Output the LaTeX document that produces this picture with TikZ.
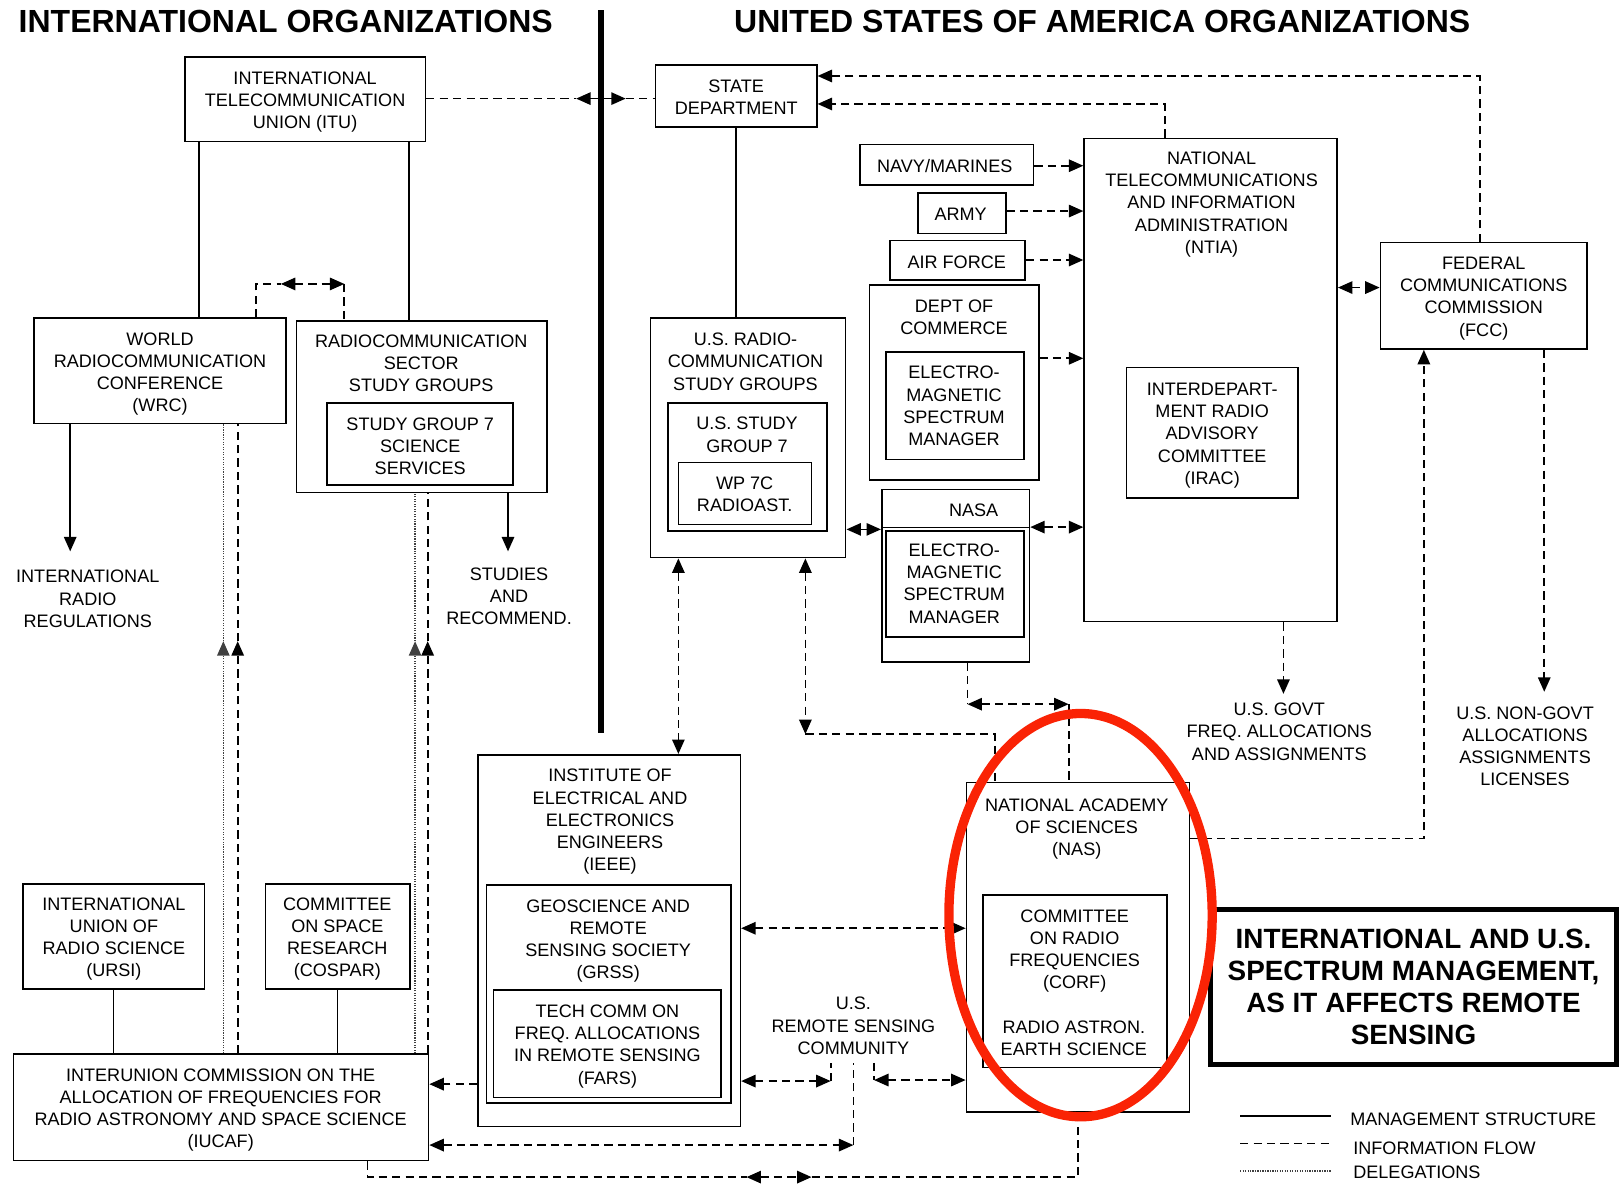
\documentclass[tikz,border=0pt]{standalone}
\usepackage{fontspec}
\setmainfont{Liberation Sans}
\usetikzlibrary{arrows.meta}
\definecolor{markred}{RGB}{250,35,5}
\newcommand\lblfont{\fontsize{17.5}{21.5}\selectfont}
\def\orgbox(#1)(#2,#3)(#4,#5){\node[org, minimum width=#4-#2, minimum height=#5-#3] (#1) at ({(#2+#4)/2},{(#3+#5)/2}) {};}
\tikzset{
  org/.style={draw, line width=1.6pt, inner sep=0pt},
  lbl/.style={align=center, inner sep=0pt, font=\lblfont},
  head/.style={inner sep=0pt, font=\fontsize{31}{36}\selectfont\bfseries},
  capbox/.style={draw, line width=4.5pt, align=center, inner sep=0pt, font=\fontsize{27}{31}\selectfont\bfseries},
  mgmt/.style={line width=1.6pt},
  info/.style={line width=1.7pt, dash pattern=on 8pt off 5pt},
  deleg/.style={line width=1.3pt, dash pattern=on 1.2pt off 1.2pt, black!75},
}
\begin{document}
\begin{tikzpicture}[x=1pt, y=-1pt, >={Triangle[length=14pt,width=12pt]}]
\useasboundingbox (0,0) rectangle (1568,1146);
%%%%% HEADINGS %%%%%
\node[head] (hint) at (276.7,21) {INTERNATIONAL ORGANIZATIONS};
\node[head] (husa) at (1067.5,21) {UNITED STATES OF AMERICA ORGANIZATIONS};
\draw[line width=5pt] (582,10) -- (582,710);

%%%%% INTERNATIONAL %%%%%
\orgbox(itu)(179,55)(412,137)
\node[lbl] (itut) at (295.5,99) {INTERNATIONAL\\TELECOMMUNICATION\\UNION (ITU)};
\orgbox(wrc)(33,308)(277,410)
\node[lbl] (wrct) at (155,362.3) {WORLD\\RADIOCOMMUNICATION\\CONFERENCE\\(WRC)};
\orgbox(rcs)(287,311)(530,477)
\node[lbl] (rcst) at (408,352) {RADIOCOMMUNICATION\\SECTOR\\STUDY GROUPS};
\orgbox(sg7)(317,390)(497,470)
\node[lbl] (sg7t) at (407,432) {STUDY GROUP 7\\SCIENCE\\SERVICES};
\node[lbl] (irr) at (85,580) {INTERNATIONAL\\RADIO\\REGULATIONS};
\node[lbl] (stud) at (493,577.4) {STUDIES\\AND\\RECOMMEND.};
\orgbox(ursi)(22,856)(198,958)
\node[lbl] (ursit) at (110.3,909.3) {INTERNATIONAL\\UNION OF\\RADIO SCIENCE\\(URSI)};
\orgbox(cospar)(257,856)(397,958)
\node[lbl] (cospart) at (326.7,909.3) {COMMITTEE\\ON SPACE\\RESEARCH\\(COSPAR)};
\orgbox(iucaf)(13,1021)(415,1124)
\node[lbl] (iucaft) at (213.7,1075) {INTERUNION COMMISSION ON THE\\ALLOCATION OF FREQUENCIES FOR\\RADIO ASTRONOMY AND SPACE SCIENCE\\(IUCAF)};

%%%%% UNITED STATES %%%%%
\orgbox(state)(635,63)(791,123)
\node[lbl] (statet) at (713,94) {STATE\\DEPARTMENT};
\orgbox(navy)(833,140)(1001,179)
\node[lbl] (navyt) at (915,160.5) {NAVY/MARINES};
\orgbox(army)(889,187)(974,226)
\node[lbl] (armyt) at (930.4,207.6) {ARMY};
\orgbox(airf)(862,233)(993,271)
\node[lbl] (airft) at (926.6,254) {AIR FORCE};
\orgbox(doc)(842,276)(1006,465)
\node[lbl] (doct) at (924,307.2) {DEPT OF\\COMMERCE};
\orgbox(docem)(858,341)(992,445)
\node[lbl] (docemt) at (924,393.1) {ELECTRO-\\MAGNETIC\\SPECTRUM\\MANAGER};
\orgbox(usrs)(630,308)(819,540)
\node[lbl] (usrst) at (722,350.3) {U.S. RADIO-\\COMMUNICATION\\STUDY GROUPS};
\orgbox(ussg)(647,390)(801,514)
\node[lbl] (ussgt) at (723.5,421) {U.S. STUDY\\GROUP 7};
\orgbox(wp)(657,448)(786,508)
\node[lbl] (wpt) at (721.2,478.5) {WP 7C\\RADIOAST.};
\orgbox(nasa)(854,474)(997,641)
\node[lbl] (nasat) at (943,494.4) {NASA};
\draw[mgmt] (nasa.west |- 0,511) -- (nasa.east |- 0,511);
\orgbox(nasaem)(858,514)(992,617)
\node[lbl] (nasaemt) at (924.2,565.2) {ELECTRO-\\MAGNETIC\\SPECTRUM\\MANAGER};
\orgbox(ntia)(1050,134)(1295,602)
\node[lbl] (ntiat) at (1173.4,198.1) {NATIONAL\\TELECOMMUNICATIONS\\AND INFORMATION\\ADMINISTRATION\\(NTIA)};
\orgbox(irac)(1091,356)(1257,482)
\node[lbl] (iract) at (1174,421.9) {INTERDEPART-\\MENT RADIO\\ADVISORY\\COMMITTEE\\(IRAC)};
\orgbox(fcc)(1337,235)(1537,338)
\node[lbl] (fcct) at (1437,289) {FEDERAL\\COMMUNICATIONS\\COMMISSION\\(FCC)};
\node[lbl] (govt) at (1239,708.7) {U.S. GOVT\\FREQ. ALLOCATIONS\\AND ASSIGNMENTS};
\node[lbl] (ngovt) at (1477,722.7) {U.S. NON-GOVT\\ALLOCATIONS\\ASSIGNMENTS\\LICENSES};
\orgbox(ieee)(463,731)(717,1091)
\node[lbl] (ieeet) at (590.8,796) {INSTITUTE OF\\ELECTRICAL AND\\ELECTRONICS\\ENGINEERS\\(IEEE)};
\orgbox(grss)(471,857)(708,1068)
\node[lbl] (grsst) at (589,911.3) {GEOSCIENCE AND\\REMOTE\\SENSING SOCIETY\\(GRSS)};
\orgbox(fars)(478,959)(698,1063)
\node[lbl] (farst) at (588.3,1013.3) {TECH COMM ON\\FREQ. ALLOCATIONS\\IN REMOTE SENSING\\(FARS)};
\node[lbl, inner ysep=8pt] (comm) at (826.5,993.6) {U.S.\\REMOTE SENSING\\COMMUNITY};
\orgbox(nas)(936,758)(1152,1077)
\node[lbl] (nast) at (1042.8,802.9) {NATIONAL ACADEMY\\OF SCIENCES\\(NAS)};
\orgbox(corf)(952,867)(1130,1034)
\node[lbl] (corft) at (1040.8,920.9) {COMMITTEE\\ON RADIO\\FREQUENCIES\\(CORF)};
\node[lbl] (corfs) at (1040,1005.3) {RADIO ASTRON.\\EARTH SCIENCE};
\node[capbox, minimum width=392.9, minimum height=150.6] (capt) at (1369,955.9) {INTERNATIONAL AND U.S.\\SPECTRUM MANAGEMENT,\\AS IT AFFECTS REMOTE\\SENSING};

%%%%% FREE ENDS %%%%%
\coordinate (irrin) at (68,534);
\coordinate (studin) at (492,534);
\coordinate (sepl) at (558,95.5);
\coordinate (sepr) at (606,95.5);
\coordinate (brl) at (272,275);
\coordinate (brr) at (333.5,275);
\coordinate (govtin) at (1243,672);
\coordinate (ngovtin) at (1495.6,670);
\coordinate (nasc) at (780,711);
\coordinate (nnl) at (937,682);
\coordinate (nnr) at (1035,682);
\coordinate (cml) at (804.5,1047);
\coordinate (cmr) at (846.5,1046);
\coordinate (cmd) at (826.5,1109);
\coordinate (btl) at (723,1140);
\coordinate (btr) at (786,1140);
\coordinate (d1) at (216.3,621);
\coordinate (d2) at (230.2,621);
\coordinate (d3) at (402,621);
\coordinate (d4) at (414.2,621);

%%%%% MANAGEMENT STRUCTURE %%%%%
\draw[mgmt] (itu.south -| 193,0) -- (wrc.north -| 193,0);
\draw[mgmt] (itu.south -| 396,0) -- (rcs.north -| 396,0);
\draw[mgmt,->] (wrc.south -| irrin) -- (irrin);
\draw[mgmt,->] (rcs.south -| studin) -- (studin);
\draw[mgmt] (state.south) -- (state.south |- usrs.north);
\draw[mgmt] (ursi.south) -- (ursi.south |- iucaf.north);
\draw[mgmt] (cospar.south) -- (cospar.south |- iucaf.north);
\draw[mgmt,<->] (usrs.east |- 0,512.7) -- (nasa.west |- 0,512.7);

%%%%% INFORMATION FLOW %%%%%
\draw[info] (itu.east |- sepl) -- (sepl);
\draw[info,<->] (sepl) -- (sepr);
\draw[info] (sepr) -- (state.west |- sepr);
\draw[info] (wrc.north -| 248,0) |- (brl);
\draw[info,<->] (brl) -- (brr);
\draw[info] (brr) -- (rcs.north -| brr);
\draw[info,->] (fcc.north -| 1433,0) |- (state.east |- 0,73.6);
\draw[info,->] (ntia.north -| 1128,0) |- (state.east |- 0,100.7);
\draw[info,->] (navy.east |- 0,160.5) -- (ntia.west |- 0,160.5);
\draw[info,->] (army.east |- 0,204.4) -- (ntia.west |- 0,204.4);
\draw[info,->] (airf.east |- 0,251.8) -- (ntia.west |- 0,251.8);
\draw[info,->] (doc.east |- 0,347) -- (ntia.west |- 0,347);
\draw[info,<->] (nasa.east |- 0,510.5) -- (ntia.west |- 0,510.5);
\draw[info,<->] (ntia.east |- 0,278.5) -- (fcc.west |- 0,278.5);
\draw[info,->] (ntia.south -| govtin) -- (govtin);
\draw[info,->] (fcc.south -| ngovtin) -- (ngovtin);
\draw[info,->] (nas.east |- 0,812) -| (fcc.south -| 1379,0);
\draw[info,<->] (usrs.south -| 657,0) -- (ieee.north -| 657,0);
\draw[info,<->] (usrs.south -| nasc) -- (nasc);
\draw[info] (nasc) -| (nas.north -| 963.6,0);
\draw[info] (nasa.south -| nnl) -- (nnl);
\draw[info,<->] (nnl) -- (nnr);
\draw[info] (nnr) -- (nas.north -| nnr);
\draw[info,<->] (ieee.east |- 0,899) -- (nas.west |- 0,899);
\draw[info,<->] (ieee.east |- cml) -- (cml);
\draw[info] (cml) -- (comm.south -| cml);
\draw[info] (comm.south -| cmr) -- (cmr);
\draw[info,<->] (cmr) -- (nas.west |- cmr);
\draw[info,<->] (iucaf.east |- cmd) -- (cmd);
\draw[info] (cmd) -- (comm.south -| cmd);
\draw[info,->] (ieee.west |- 0,1050) -- (iucaf.east |- 0,1050);
\draw[info] (iucaf.south -| 356,0) |- (btl);
\draw[info,<->] (btl) -- (btr);
\draw[info] (btr) -| (nas.south);

%%%%% DELEGATIONS %%%%%
\draw[deleg,->] (iucaf.north -| d1) -- (d1);
\draw[deleg] (d1) -- (wrc.south -| d1);
\draw[info,->] (iucaf.north -| d2) -- (d2);
\draw[info] (d2) -- (wrc.south -| d2);
\draw[deleg,->] (iucaf.north -| d3) -- (d3);
\draw[deleg] (d3) -- (rcs.south -| d3);
\draw[info,->] (iucaf.north -| d4) -- (d4);
\draw[info] (d4) -- (rcs.south -| d4);

%%%%% LEGEND %%%%%
\node[lbl, anchor=west] (lgm) at (1307.5,1083.8) {MANAGEMENT STRUCTURE};
\node[lbl, anchor=west] (lgi) at (1310.5,1112.2) {INFORMATION FLOW};
\node[lbl, anchor=west] (lgd) at (1310.5,1135.8) {DELEGATIONS};
\draw[mgmt] (lgm.west) ++(-106.5,-3.2) -- ++(88,0);
\draw[info] (lgi.west) ++(-109.5,-4.8) -- ++(88,0);
\draw[deleg] (lgd.west) ++(-109.5,-1.6) -- ++(88,0);

%%%%% MARK %%%%%
\draw[markred, line width=9pt] (1046.5,886.3) ellipse [x radius=127.5, y radius=195.3];
\end{tikzpicture}
\end{document}
